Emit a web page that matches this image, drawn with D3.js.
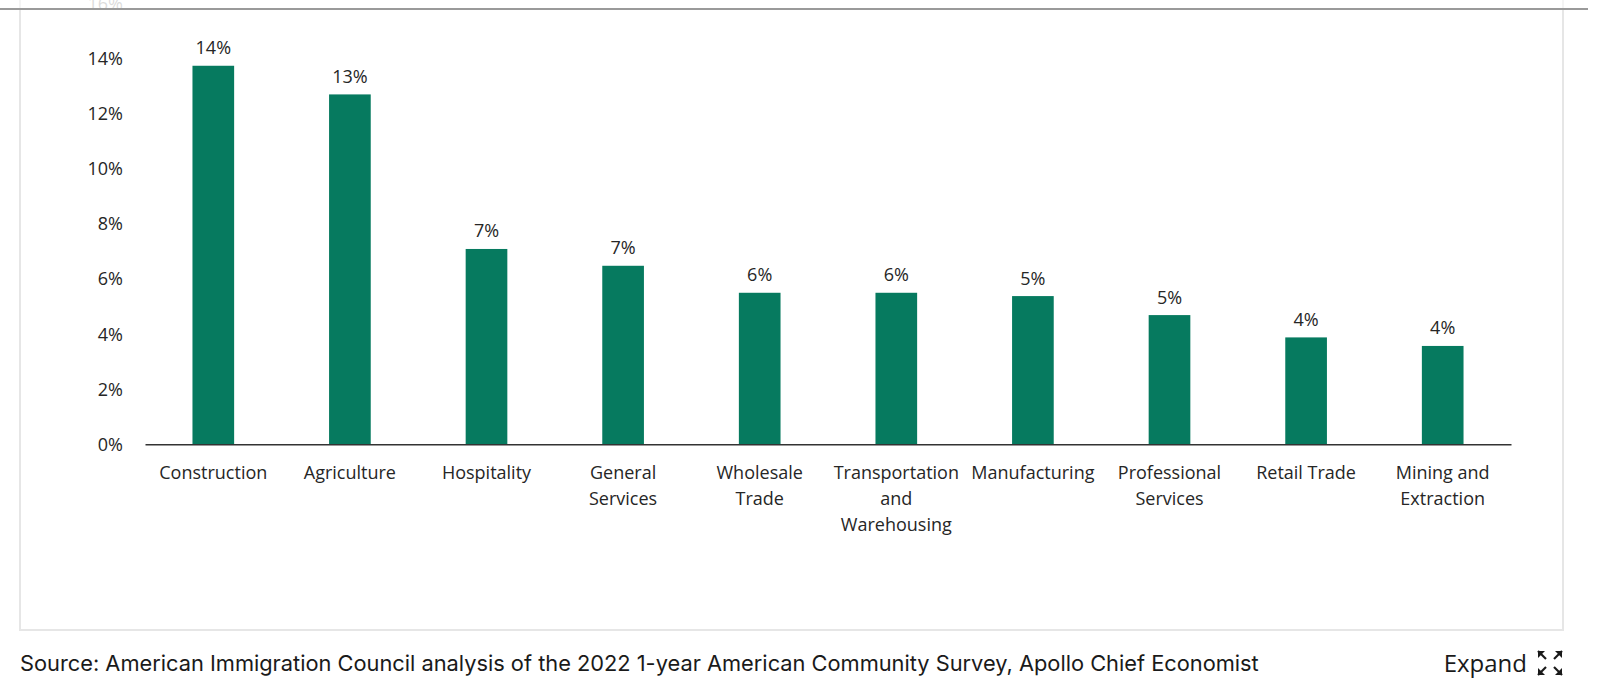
<!DOCTYPE html>
<html>
<head>
<meta charset="utf-8">
<script src="https://cdn.jsdelivr.net/npm/d3@7"></script>
<style>
    body { margin: 0; background: #fff; }
    svg { display: block; }
</style>
</head>
<body>
<div id="chart"></div>
<script>
// values (share of workers, %)
const categories = ["Construction", "Agriculture", "Hospitality", "General Services", "Wholesale Trade",
    "Transportation and Warehousing", "Manufacturing", "Professional Services", "Retail Trade", "Mining and Extraction"];
const categoryLines = [["Construction"], ["Agriculture"], ["Hospitality"], ["General", "Services"], ["Wholesale", "Trade"],
    ["Transportation", "and", "Warehousing"], ["Manufacturing"], ["Professional", "Services"], ["Retail Trade"], ["Mining and", "Extraction"]];
const values = [13.74, 12.7, 7.09, 6.48, 5.5, 5.5, 5.38, 4.69, 3.88, 3.57];
const valueLabels = ["14%", "13%", "7%", "7%", "6%", "6%", "5%", "5%", "4%", "4%"];
const yTicks = [0, 2, 4, 6, 8, 10, 12, 14, 16];
const sourceText = "Source: American Immigration Council analysis of the 2022 1-year American Community Survey, Apollo Chief Economist";

const width = 1600, height = 679;
const barColor = "#067a5f";
const chartFont = "'Open Sans', 'Noto Sans', sans-serif";
const labelSize = 18;

const svg = d3.select("#chart").append("svg")
    .attr("width", width)
    .attr("height", height);

// chart card
svg.append("rect")
    .attr("x", 20).attr("y", -10)
    .attr("width", 1543).attr("height", 640)
    .attr("fill", "#fff")
    .attr("stroke", "#e6e6e6")
    .attr("stroke-width", 2);

const x = d3.scaleBand()
    .domain(categories)
    .range([145, 1511])
    .paddingInner(0.695)
    .paddingOuter(0.3475);

const y = d3.scaleLinear()
    .domain([0, 14])
    .range([444.3, 58.6]);

const g = svg.append("g");

// y tick labels (no axis line)
g.selectAll("text.ytick")
    .data(yTicks)
    .join("text")
    .attr("class", "ytick")
    .attr("x", 123)
    .attr("y", d => y(d))
    .attr("dy", "0.36em")
    .attr("text-anchor", "end")
    .attr("font-family", chartFont)
    .attr("font-size", labelSize)
    .attr("fill", "#262626")
    .attr("opacity", d => d === 16 ? 0.35 : 1)
    .text(d => d + "%");

g.selectAll("rect.bar")
    .data(values)
    .join("rect")
    .attr("class", "bar")
    .attr("x", (d, i) => x(categories[i]))
    .attr("width", x.bandwidth())
    .attr("y", d => y(d))
    .attr("height", d => y(0) - y(d))
    .attr("fill", barColor);

g.selectAll("text.vlabel")
    .data(values)
    .join("text")
    .attr("class", "vlabel")
    .attr("x", (d, i) => x(categories[i]) + x.bandwidth() / 2)
    .attr("y", d => y(d) - 18)
    .attr("dy", "0.36em")
    .attr("text-anchor", "middle")
    .attr("font-family", chartFont)
    .attr("font-size", labelSize)
    .attr("fill", "#262626")
    .text((d, i) => valueLabels[i]);

// baseline
const xAxis = d3.axisBottom(x).tickSize(0).tickFormat("");
g.append("g")
    .attr("transform", `translate(0,${y(0)})`)
    .call(xAxis)
    .call(a => a.select(".domain").attr("stroke", "#333").attr("stroke-width", 1.6));

// category labels, one tspan per line
const cat = g.selectAll("text.cat")
    .data(categoryLines)
    .join("text")
    .attr("class", "cat")
    .attr("text-anchor", "middle")
    .attr("font-family", chartFont)
    .attr("font-size", labelSize)
    .attr("fill", "#262626");

cat.selectAll("tspan")
    .data((d, i) => d.map(line => ({ line, cx: x(categories[i]) + x.bandwidth() / 2 })))
    .join("tspan")
    .attr("x", d => d.cx)
    .attr("y", (d, j) => 472.5 + j * 26)
    .attr("dy", "0.36em")
    .text(d => d.line);

// white strip above the grey rule (clips the 16% label)
svg.append("rect")
    .attr("x", 0).attr("y", -20)
    .attr("width", width).attr("height", 28)
    .attr("fill", "#fff")
    .attr("opacity", 0.55);

svg.append("line")
    .attr("x1", 0).attr("x2", 1588)
    .attr("y1", 9).attr("y2", 9)
    .attr("stroke", "#9a9a9a")
    .attr("stroke-width", 2);

// footer
svg.append("text")
    .attr("x", 20)
    .attr("y", 663)
    .attr("dy", "0.36em")
    .attr("font-family", "Inter, Roboto, sans-serif")
    .attr("font-size", 21.8)
    .attr("fill", "#1a1a1a")
    .text(sourceText);

svg.append("text")
    .attr("x", 1527)
    .attr("y", 663)
    .attr("dy", "0.36em")
    .attr("text-anchor", "end")
    .attr("font-family", chartFont)
    .attr("font-size", 24)
    .attr("fill", "#1a1a1a")
    .text("Expand");

// expand icon: four corner arrows
const icon = svg.append("g").attr("transform", "translate(1550,663)");
const corners = [[-1, -1], [1, -1], [-1, 1], [1, 1]];
corners.forEach(([sx, sy]) => {
    const tip = [sx * 12, sy * 12];
    icon.append("path")
        .attr("d", `M${tip[0]},${tip[1]} L${tip[0] - sx * 7},${tip[1]} L${tip[0]},${tip[1] - sy * 7} Z`)
        .attr("fill", "#1a1a1a");
    icon.append("line")
        .attr("x1", tip[0]).attr("y1", tip[1])
        .attr("x2", sx * 4).attr("y2", sy * 4)
        .attr("stroke", "#1a1a1a")
        .attr("stroke-width", 2.2);
});
</script>
</body>
</html>
